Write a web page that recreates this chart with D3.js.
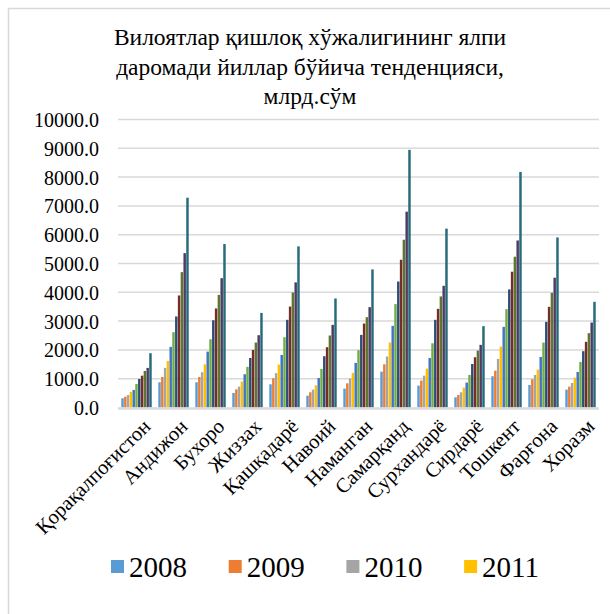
<!DOCTYPE html>
<html><head><meta charset="utf-8">
<script src="https://cdn.jsdelivr.net/npm/d3@7"></script>
<style>body{margin:0;background:#fff;} text{font-family:'Liberation Serif','Times New Roman',Tinos,'DejaVu Serif',serif !important;}</style>
</head><body><svg id="c" width="610" height="614"></svg>
<script>
const regions = ["Қорақалпоғистон","Андижон","Бухоро","Жиззах","Қашқадарё","Навоий","Наманган","Самарқанд","Сурхандарё","Сирдарё","Тошкент","Фарғона","Хоразм"];
const years = ["2008","2009","2010","2011","2012","2013","2014","2015","2016","2017","2018"];
const legendYears = ["2008","2009","2010","2011"];
const colors = ["#5B9BD5","#ED7D31","#A5A5A5","#FFC000","#4472C4","#70AD47","#2C4D75","#772C2A","#5F7530","#4D3B62","#276A7C"];
const yTicks = [0,1000,2000,3000,4000,5000,6000,7000,8000,9000,10000];
const titleLines = ["Вилоятлар қишлоқ хўжалигининг ялпи","даромади йиллар бўйича тенденцияси,","млрд.сўм"];
// values per region, years 2008..2018
const v2008 = [320,875,875,505,805,410,655,1245,760,355,1085,783,620];
const v2009 = [375,1060,1060,630,1015,528,840,1500,935,435,1280,980,725];
const v2010 = [435,1375,1225,725,1190,620,1003,1770,1105,528,1687,1130,850];
const v2011 = [540,1617,1500,900,1490,770,1200,2255,1350,690,2115,1315,1037];
const v2012 = [610,2105,1940,1155,1825,1025,1550,2835,1720,865,2800,1755,1235];
const v2013 = [817,2615,2370,1410,2440,1340,1990,3590,2230,1130,3415,2255,1583];
const v2014 = [990,3160,3030,1720,3045,1780,2520,4375,3045,1510,4100,2975,1955];
const v2015 = [1105,3890,3440,2000,3505,2093,2915,5130,3425,1745,4715,3495,2280];
const v2016 = [1270,4700,3910,2255,3995,2500,3135,5825,3855,1975,5235,3980,2580];
const v2017 = [1375,5360,4490,2510,4345,2870,3485,6800,4225,2175,5800,4505,2950];
const v2018 = [1885,7285,5675,3285,5595,3785,4795,8945,6210,2825,8180,5905,3670];
const series = [v2008,v2009,v2010,v2011,v2012,v2013,v2014,v2015,v2016,v2017,v2018];

const FONT = "Liberation Serif, Times New Roman, Tinos, DejaVu Serif, serif";
const svg = d3.select("#c").attr("font-family",FONT);
// chart border
svg.append("rect").attr("x",8.5).attr("y",8.5).attr("width",640).attr("height",640)
  .attr("fill","none").attr("stroke","#D9D9D9").attr("stroke-width",1.5);

const L=118, R=599, T=119.5, B=407.5;
const x0 = d3.scaleBand().domain(regions).range([L,R]).paddingInner(0.16).paddingOuter(0.08);
const x1 = d3.scaleBand().domain(years).range([0,x0.bandwidth()]).padding(0.12);
const y = d3.scaleLinear().domain([0,10000]).range([B,T]);

// title
svg.append("g").selectAll("text").data(titleLines).join("text")
  .attr("x",310).attr("y",(d,i)=>45+i*29.5).attr("text-anchor","middle")
  .attr("font-family",FONT).attr("font-size",23.5).attr("fill","#000").text(d=>d);

// gridlines
svg.append("g").selectAll("line").data(yTicks.filter(t=>t>0)).join("line")
  .attr("x1",L).attr("x2",R).attr("y1",d=>y(d)).attr("y2",d=>y(d))
  .attr("stroke","#D9D9D9").attr("stroke-width",1.5);

// y axis labels
const yAxis = d3.axisLeft(y).tickValues(yTicks).tickFormat(d=>d3.format(".1f")(d)).tickSize(0).tickPadding(0);
const ga = svg.append("g").attr("transform",`translate(${L-19},0)`).call(yAxis);
ga.attr("font-family",FONT).attr("font-size",20);
ga.select(".domain").remove();
ga.selectAll("text").attr("font-family",FONT).attr("font-size",20).attr("fill","#000").attr("dy","0.35em");

// bars
const groups = svg.append("g").selectAll("g").data(regions).join("g")
  .attr("transform",d=>`translate(${x0(d)},0)`);
groups.selectAll("rect").data((r,ri)=>years.map((yr,si)=>({yr,si,v:series[si][ri]}))).join("rect")
  .attr("x",d=>x1(d.yr)).attr("width",x1.bandwidth())
  .attr("y",d=>y(d.v)).attr("height",d=>B-y(d.v))
  .attr("fill",d=>colors[d.si]);

// baseline
svg.append("line").attr("x1",L).attr("x2",R).attr("y1",B+1).attr("y2",B+1)
  .attr("stroke","#D9D9D9").attr("stroke-width",2.5);

// x labels rotated
svg.append("g").selectAll("text").data(regions).join("text")
  .attr("transform",d=>`translate(${x0(d)+x0.bandwidth()/2+5},${B+10}) rotate(-45)`)
  .attr("text-anchor","end").attr("dy","0.7em")
  .attr("font-family",FONT).attr("font-size",20.5).attr("fill","#000").text(d=>d);

// legend
const lg = svg.append("g").selectAll("g").data(legendYears).join("g")
  .attr("transform",(d,i)=>`translate(${111+i*117.7},567)`);
lg.append("rect").attr("x",0).attr("y",-7).attr("width",13).attr("height",13)
  .attr("fill",(d,i)=>colors[i]);
lg.append("text").attr("x",18).attr("y",0).attr("dy","0.35em")
  .attr("font-family",FONT).attr("font-size",29).attr("fill","#000").text(d=>d);
</script></body></html>
